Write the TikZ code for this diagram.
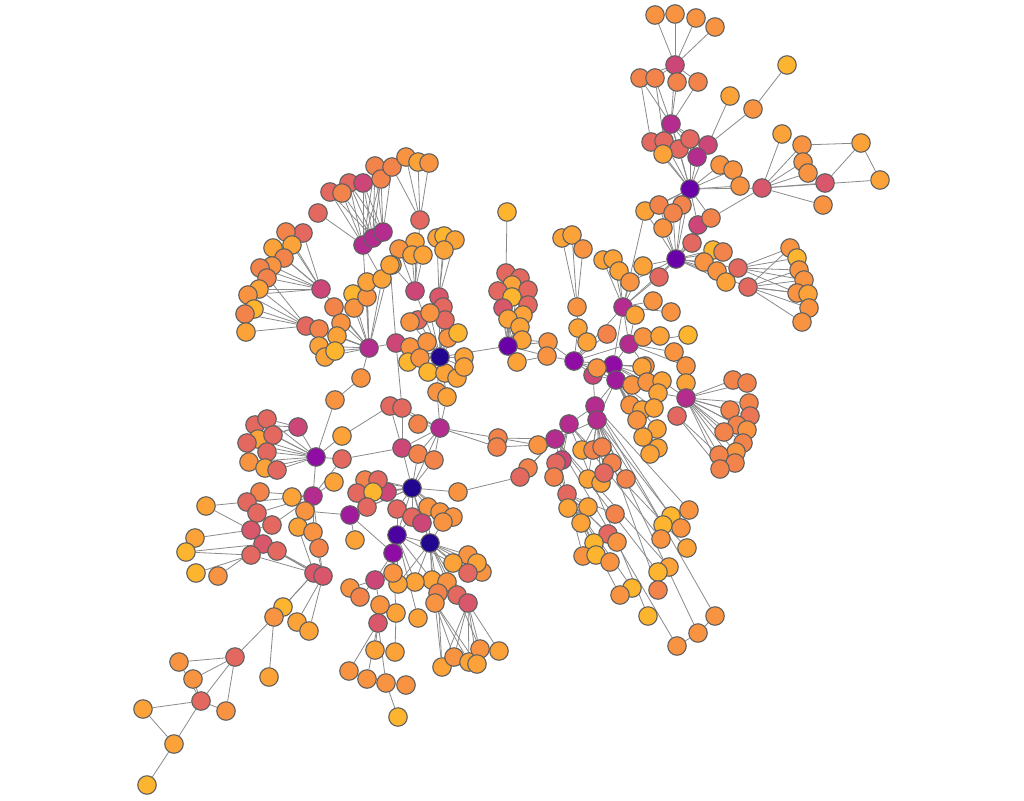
\documentclass[tikz,border=0pt]{standalone}
\usetikzlibrary{backgrounds}
\definecolor{c1}{HTML}{FDB42F}
\definecolor{c2}{HTML}{FBA238}
\definecolor{c3}{HTML}{F89441}
\definecolor{c4}{HTML}{F2844B}
\definecolor{c5}{HTML}{EB7655}
\definecolor{c6}{HTML}{E3685F}
\definecolor{c7}{HTML}{D8576B}
\definecolor{c8}{HTML}{CC4778}
\definecolor{c9}{HTML}{B32C8E}
\definecolor{c10}{HTML}{A01A9C}
\definecolor{c11}{HTML}{8F0DA4}
\definecolor{c12}{HTML}{6A00A8}
\definecolor{c13}{HTML}{4C02A1}
\definecolor{c14}{HTML}{22068F}
\definecolor{bord}{HTML}{606060}
\definecolor{edg}{HTML}{8A8A8A}
\tikzset{nd/.style={circle,draw=bord,line width=1.1pt,minimum size=18.5pt,inner sep=0pt},
edge/.style={draw=edg,line width=0.8pt}}
\begin{document}
\begin{tikzpicture}[x=1pt,y=-1pt]
\begin{scope}[on background layer]
\fill[white] (0,0) rectangle (1024,800);
\end{scope}
\useasboundingbox (0,0) rectangle (1024,800);
\foreach \id/\x/\y/\c in {
t1/655/15/c3,t2/675/14/c3,t3/696/18/c3,t4/715/27/c3,t5/675/65/c8,t6/640/78/c4,t7/655/78/c4,t8/677/82/c4,t9/698/82/c4,t10/671/124/c9,
t11/730/96/c2,t12/753/109/c3,t13/787/65/c1,t14/651/142/c6,t15/664/141/c6,t16/679/149/c6,t17/690/139/c6,t18/708/145/c8,t19/697/157/c9,t20/663/154/c2,
t21/720/165/c3,t22/733/170/c3,t23/740/186/c3,t24/690/189/c12,t25/762/188/c7,t26/782/134/c2,t27/802/145/c3,t28/861/143/c2,t29/803/162/c3,t30/808/173/c3,
t31/825/183/c7,t32/880/180/c2,t33/823/205/c3,
u1/645/211/c2,u2/659/205/c4,u3/682/205/c4,u4/673/213/c4,u5/663/228/c3,u6/698/225/c8,u7/711/218/c4,u8/692/243/c6,u9/676/259/c12,u10/713/250/c1,
u11/723/252/c4,u12/704/262/c3,u13/717/271/c3,u14/726/282/c2,u15/738/268/c6,u16/748/287/c6,u17/790/248/c3,u18/797/258/c1,u19/799/270/c3,u20/804/280/c3,
u21/797/293/c3,u22/808/294/c2,u23/809/308/c3,u24/802/322/c3,u25/643/266/c2,u26/659/277/c6,
v1/603/260/c2,v2/613/259/c2,v3/619/271/c2,v4/630/282/c3,v5/623/307/c9,v6/635/315/c2,v7/653/301/c3,v8/671/312/c3,v9/562/238/c2,v10/572/235/c2,
v11/583/249/c3,v12/577/307/c3,v13/578/328/c2,v14/587/342/c2,v15/607/334/c4,v16/574/361/c11,v17/548/342/c3,v18/547/356/c3,v19/629/344/c9,v20/643/337/c3,
v21/660/336/c2,v22/688/335/c1,v23/674/352/c3,v24/686/366/c3,v25/645/366/c3,v26/613/365/c11,v27/616/380/c10,v28/593/375/c8,v29/597/368/c3,v30/632/385/c3,
v31/642/367/c2,v32/647/382/c3,v33/662/381/c2,v34/686/383/c2,v35/658/393/c2,
w1/686/398/c9,w2/677/416/c6,w3/733/380/c4,w4/747/383/c4,w5/730/410/c4,w6/749/403/c4,w7/750/416/c5,w8/737/425/c4,w9/747/430/c3,w10/724/432/c4,
w11/743/443/c4,w12/736/452/c3,w13/719/455/c4,w14/735/463/c4,w15/720/469/c4,
x1/630/405/c3,x2/642/410/c2,x3/654/408/c2,x4/657/429/c2,x5/643/437/c2,x6/658/448/c2,x7/650/454/c2,x8/637/420/c3,x9/595/406/c9,x10/597/420/c9,
x11/569/424/c9,x12/555/439/c9,x13/538/445/c3,x14/562/460/c8,x15/556/463/c6,x16/554/477/c4,x17/528/468/c4,x18/520/477/c6,x19/582/450/c2,x20/593/450/c4,
x21/602/447/c4,x22/612/463/c4,x23/588/479/c2,x24/601/483/c2,x25/604/473/c6,x26/626/479/c4,x27/498/438/c4,x28/497/447/c4,x29/567/494/c6,x30/568/508/c2,
x31/588/507/c2,x32/581/523/c2,x33/615/514/c4,x34/608/534/c6,x35/617/542/c3,x36/594/543/c1,x37/583/556/c3,x38/596/555/c1,x39/610/562/c3,x40/632/588/c1,
x41/620/595/c3,x42/671/516/c1,x43/689/510/c3,x44/663/525/c1,x45/681/528/c3,x46/661/539/c3,x47/687/548/c2,x48/669/567/c2,x49/658/572/c1,x50/658/590/c4,
x51/648/616/c1,x52/715/616/c3,x53/698/633/c3,x54/677/646/c3,
m1/507/212/c1,m2/506/273/c6,m3/520/278/c6,m4/512/285/c2,m5/498/291/c6,m6/528/290/c6,m7/512/297/c1,m8/528/305/c6,m9/503/308/c7,m10/523/315/c2,
m11/508/319/c2,m12/520/327/c2,m13/522/340/c2,m14/508/346/c12,m15/517/362/c2,
n1/420/220/c6,n2/437/238/c2,n3/444/236/c1,n4/455/240/c2,n5/444/250/c2,n6/415/242/c2,n7/399/249/c3,n8/412/255/c2,n9/423/255/c2,n10/392/265/c2,
n11/415/291/c8,n12/439/297/c7,n13/443/307/c6,n14/445/320/c6,n15/418/320/c6,n16/430/313/c3,n17/410/322/c3,n18/396/343/c8,n19/410/347/c3,n20/427/342/c3,
n21/448/338/c3,n22/458/333/c1,n24/408/362/c1,n25/420/358/c3,n26/428/372/c1,n27/445/373/c2,n28/457/378/c2,n29/464/357/c2,n30/464/367/c2,
n31/437/392/c3,n32/447/397/c2,n23/440/357/c14,
a1/330/192/c6,a2/318/213/c6,a3/349/183/c6,a4/363/183/c8,a5/342/193/c4,a6/375/166/c4,a7/381/179/c4,a8/392/167/c4,a9/406/157/c3,a10/418/162/c2,
a11/429/163/c3,a12/363/245/c9,a13/373/238/c9,a14/383/232/c9,
l1/303/233/c6,l2/286/232/c4,l3/292/245/c2,l4/273/248/c2,l5/284/258/c4,l6/272/266/c3,l7/260/268/c4,l8/267/278/c4,l9/259/289/c2,l10/248/295/c3,
l11/254/309/c1,l12/245/314/c4,l13/246/332/c2,l14/321/289/c8,l15/306/326/c6,l16/319/329/c4,l17/334/307/c4,l18/353/294/c1,l19/354/308/c3,l20/367/297/c3,
l21/367/282/c2,l22/382/279/c2,l23/390/265/c2,l24/341/323/c3,l25/337/336/c2,l26/319/346/c2,l27/325/357/c2,l28/335/351/c1,l29/369/348/c9,l30/361/378/c3,
l31/335/400/c3,
p1/298/427/c8,p2/255/425/c6,p3/267/419/c6,p4/258/439/c2,p5/247/443/c6,p6/273/435/c6,p7/267/452/c6,p8/249/462/c3,p9/265/468/c2,p10/277/470/c6,
p11/316/457/c11,p12/342/436/c2,p13/342/459/c6,p14/334/482/c2,p15/313/496/c9,p16/292/497/c2,p17/260/492/c4,p18/247/502/c6,p19/257/513/c6,p20/206/506/c2,
p21/305/511/c3,p22/272/525/c6,p23/251/530/c7,p24/263/544/c7,p25/277/551/c6,p26/251/555/c6,p27/195/538/c2,p28/186/552/c1,p29/196/573/c1,p30/218/576/c3,
p31/298/527/c2,p32/313/532/c3,p33/319/548/c4,p34/314/573/c7,p35/323/576/c7,
b1/283/607/c1,b2/274/617/c3,b3/297/622/c2,b4/309/631/c2,b5/235/657/c6,b6/179/662/c3,b7/193/679/c3,b8/269/677/c2,b9/201/701/c6,b10/226/711/c3,
b11/143/709/c2,b12/174/744/c2,b13/147/785/c1,
q1/390/406/c6,q2/402/408/c6,q3/418/424/c4,q4/440/428/c9,q5/402/448/c8,q6/418/454/c4,q7/434/460/c4,q9/387/492/c8,q10/458/492/c3,
q11/365/480/c4,q12/378/480/c6,q13/357/493/c6,q14/373/492/c1,q15/367/507/c6,q16/350/515/c10,q17/355/540/c2,q18/397/509/c6,q19/412/517/c6,q20/428/507/c3,
q21/440/512/c3,q22/453/517/c3,q23/422/523/c8,q24/443/522/c3,q8/412/488/c14,
r4/468/555/c3,r5/482/572/c3,r6/453/563/c2,r7/477/563/c2,r8/468/573/c6,r9/432/580/c2,r10/415/582/c2,r11/398/584/c2,r12/447/582/c3,
r13/438/593/c4,r14/457/595/c6,r15/468/603/c7,r16/435/603/c3,r17/418/618/c2,r18/396/613/c2,r19/442/667/c2,r20/454/657/c3,r21/469/662/c2,r22/480/649/c3,
r23/477/664/c2,r24/499/651/c2,r25/375/580/c8,r26/350/588/c3,r27/360/597/c4,r28/380/605/c3,r29/378/623/c7,r30/375/650/c2,r31/349/671/c3,r32/367/679/c3,
r33/386/683/c3,r34/406/685/c3,r35/398/717/c1,r36/395/652/c2,r37/393/573/c3,r1/397/535/c13,r2/393/553/c11,r3/430/543/c14}
{\node[nd,fill=\c] (\id) at (\x,\y) {};}
\begin{scope}[on background layer]
\foreach \a/\b in {
t5/t1,t5/t2,t5/t3,t5/t4,t5/t6,t5/t7,t5/t8,t5/t9,t5/t10,t6/t10,t7/t10,t8/t10,t9/t10,t6/t14,t7/t15,
t10/t14,t10/t15,t10/t16,t10/t17,t10/t18,t10/t19,t10/t20,t10/t24,t18/t11,t18/t12,t12/t13,t18/t19,t17/t18,
t24/t14,t24/t15,t24/t16,t24/t17,t24/t19,t24/t20,t24/t21,t24/t22,t24/t23,t24/t25,t24/t18,
t25/t26,t25/t27,t25/t29,t25/t30,t25/t31,t25/t32,t25/t33,t27/t28,t28/t32,t28/t31,t25/u7,
t24/u1,t24/u2,t24/u3,t24/u4,t24/u5,t24/u6,t24/u7,t24/u9,
u9/u1,u9/u2,u9/u3,u9/u4,u9/u5,u9/u6,u9/u7,u9/u8,u9/u10,u9/u11,u9/u12,u9/u13,u9/u14,u9/u15,u9/u16,u9/u25,u9/u26,u9/v4,u9/v5,
u15/u17,u15/u18,u15/u19,u15/u20,u15/u21,u16/u19,u16/u20,u16/u21,u16/u22,u16/u23,u16/u24,u16/u17,u6/u8,
v5/v1,v5/v2,v5/v3,v5/v4,v5/v6,v5/v7,v5/v8,v5/u26,v5/u25,v5/v19,v5/v26,v5/v16,v5/u1,
v12/v9,v12/v10,v12/v11,v12/v13,v13/v16,v14/v16,v15/v16,v17/v16,v18/v16,m14/v17,m14/v18,m13/v17,m15/v18,
v16/v26,v16/v27,v16/v28,v16/v19,v16/v29,
v19/v20,v19/v21,v19/v22,v19/v23,v19/v24,v19/v25,v19/v26,v19/v6,
v26/v30,v26/v31,v26/v32,v26/v33,v26/v35,v26/v25,v27/v30,v27/v32,v27/x1,v27/x2,v27/x3,v27/x4,v27/x5,v27/x6,v27/x7,v27/x8,v27/x9,v27/v28,
v33/w1,v34/w1,v35/w1,v24/w1,w1/w2,w1/w3,w1/w4,w1/w5,w1/w6,w1/w7,w1/w8,w1/w9,w1/w10,w1/w11,w1/w12,w1/w13,w1/w14,w1/w15,w2/w13,w2/w15,
x9/x10,x9/x11,x10/x12,x11/x12,x9/v28,x10/v27,x12/x13,x13/x27,x13/x28,x12/x27,x11/x17,x12/x17,x12/x18,
x10/x19,x10/x20,x10/x21,x10/x22,x10/x23,x10/x24,x10/x25,x10/x26,x11/x14,x11/x15,x11/x16,
x9/x42,x9/x43,x10/x44,x10/x45,x11/x46,x11/x47,x12/x48,x12/x49,x10/x50,x11/x51,x9/x52,x10/x53,x12/x54,
x42/x44,x43/x45,x52/x53,x53/x54,x49/x48,
x29/x30,x29/x31,x29/x32,x29/x33,x29/x34,x29/x35,x29/x36,x29/x37,x29/x38,x29/x39,x29/x40,x29/x41,x16/x29,x15/x29,x12/x29,
x18/q10,x27/q4,x28/q4,
m1/m2,m2/m14,m3/m14,m4/m14,m5/m14,m6/m14,m7/m14,m8/m14,m9/m14,m10/m14,m11/m14,m12/m14,m13/m14,m15/m14,m14/n23,m2/m3,m5/m9,
n1/a9,n1/a10,n1/a11,n1/a8,n1/n11,n11/n6,n11/n7,n11/n8,n11/n9,n11/n10,n12/n2,n12/n3,n12/n4,n12/n5,
n23/n11,n23/n12,n23/n13,n23/n14,n23/n15,n23/n16,n23/n17,n23/n18,n23/n19,n23/n20,n23/n21,n23/n22,n23/n24,n23/n25,n23/n26,n23/n27,n23/n28,n23/n29,n23/n30,n23/n31,n23/n32,
n18/l29,n18/l23,n18/q2,n31/q4,n32/q4,
a12/a1,a12/a2,a12/a3,a12/a4,a12/a5,a12/a6,a12/a7,a13/a1,a13/a3,a13/a4,a13/a5,a13/a6,a13/a7,a14/a3,a14/a4,a14/a6,a14/a7,a14/a8,a14/a13,a13/a12,a12/l29,a12/l22,
l14/l1,l14/l2,l14/l3,l14/l4,l14/l5,l14/l6,l14/l7,l14/l8,l14/l9,l14/l10,l15/l9,l15/l10,l15/l11,l15/l12,l15/l13,l15/l7,
l29/l15,l29/l16,l29/l17,l29/l18,l29/l19,l29/l20,l29/l21,l29/l22,l29/l23,l29/l24,l29/l25,l29/l26,l29/l27,l29/l28,l29/l30,l29/l14,l30/l31,
p11/p1,p11/p2,p11/p3,p11/p4,p11/p5,p11/p6,p11/p7,p11/p8,p11/p9,p11/p10,p11/p12,p11/p13,p11/p15,p11/l31,p1/p2,p1/p3,p1/p6,p1/p4,
p12/q1,p13/q5,
p15/p14,p15/p16,p15/p17,p15/p18,p15/p19,p15/p21,p15/p31,p15/p32,p15/p33,p15/p13,p15/p22,
p20/p18,p20/p23,p23/p27,p24/p28,p26/p28,p26/p29,p24/p30,p22/p23,p23/p24,p25/p24,p19/p23,
p34/p26,p34/p24,p34/p25,p35/p25,p34/p31,p35/p32,p35/p33,p34/b1,p34/b2,p35/b3,p35/b4,p34/p35,
b2/b5,b2/b8,b5/b6,b5/b7,b5/b9,b5/b10,b9/b6,b9/b7,b9/b10,b9/b11,b9/b12,b11/b12,b12/b13,
q8/q5,q8/q6,q8/q7,q8/q4,q8/q9,q8/q10,q8/q11,q8/q12,q8/q13,q8/q14,q8/q15,q8/q16,q8/q18,q8/q19,q8/q20,q8/q21,q8/q22,q8/q23,
q4/q1,q4/q2,q4/q3,q4/q5,q4/q6,q4/q7,q5/q1,q5/q2,q16/q17,q16/p21,
r1/r2,r1/r3,r3/r4,r3/r5,r3/r6,r3/r7,r3/r8,r3/r9,r3/r10,r3/r11,r3/r12,r3/r13,r3/r14,r3/r15,r3/r16,r1/r6,r1/r9,r1/r10,r1/r11,r1/r17,
r2/r25,r2/r37,r2/r18,r2/r11,r16/r19,r16/r20,r16/r21,r16/r23,r15/r19,r15/r20,r15/r21,r15/r22,r15/r23,r15/r24,r13/r19,r14/r22,
r25/r26,r25/r27,r25/r28,r28/r29,r29/r30,r29/r31,r29/r32,r29/r33,r30/r36,r33/r35,r33/r34,r36/r18,
r1/q18,r1/q19,r3/q20,r1/q8,r3/q8,r2/q16,r3/q24}
{\draw[edge] (\a) -- (\b);}
\end{scope}
\end{tikzpicture}
\end{document}
